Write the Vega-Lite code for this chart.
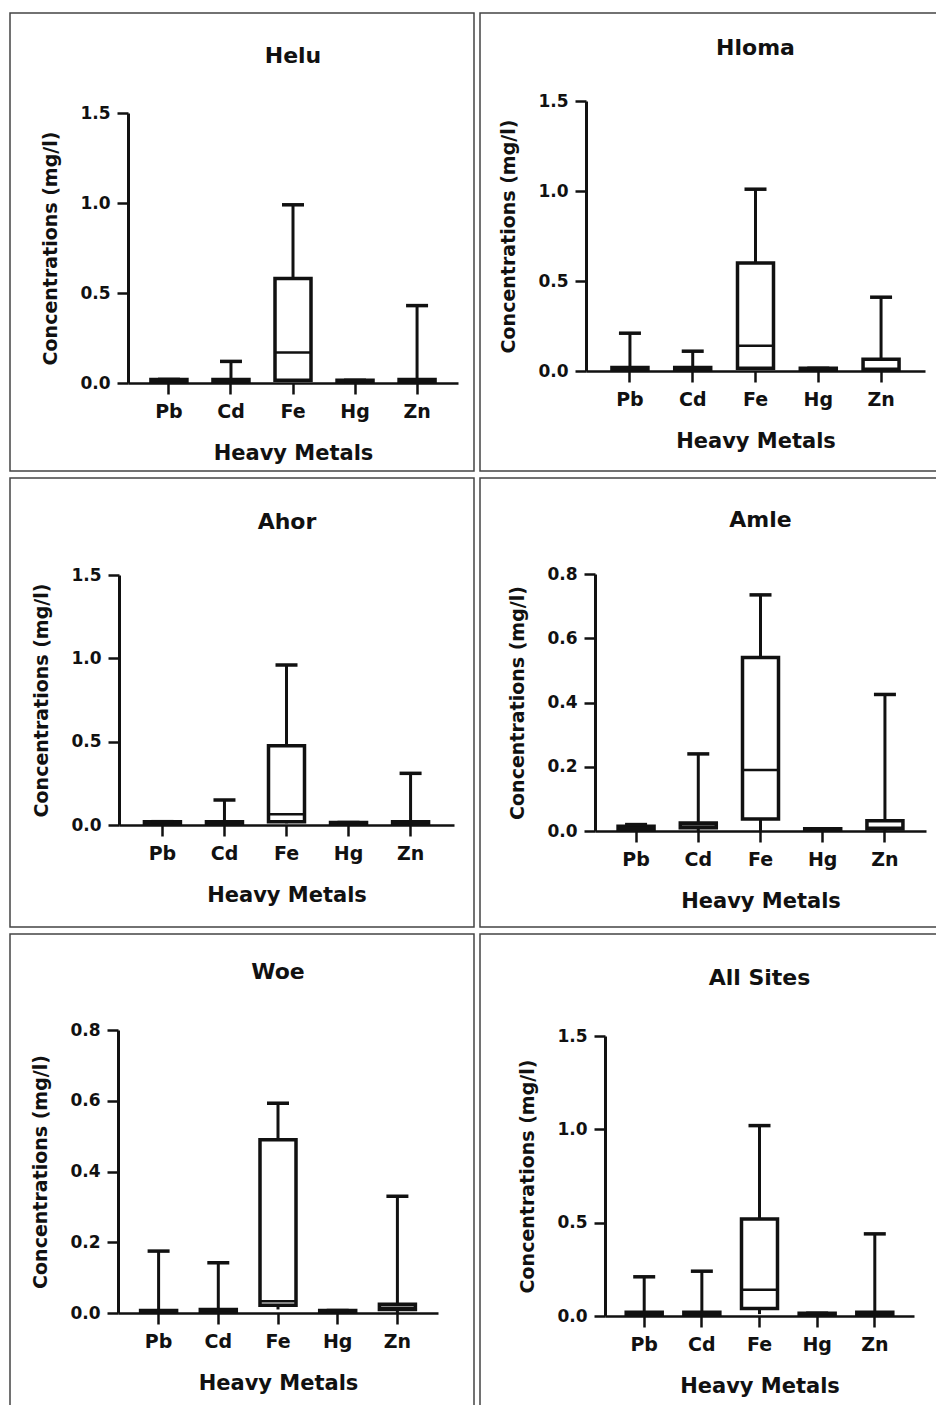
{
  "$schema": "https://vega.github.io/schema/vega-lite/v6.json",
  "padding": {"left": 9, "top": 12, "right": 0, "bottom": 0},
  "background": "white",
  "datasets": {
    "stats": [
      {"site": "Helu", "metal": "Pb", "min": 0, "q1": 0.01, "median": 0.01, "q3": 0.02, "max": 0.02},
      {"site": "Helu", "metal": "Cd", "min": 0, "q1": 0.01, "median": 0.01, "q3": 0.02, "max": 0.12},
      {"site": "Helu", "metal": "Fe", "min": 0.01, "q1": 0.015, "median": 0.17, "q3": 0.58, "max": 0.99},
      {"site": "Helu", "metal": "Hg", "min": 0, "q1": 0.01, "median": 0.01, "q3": 0.015, "max": 0.015},
      {"site": "Helu", "metal": "Zn", "min": 0, "q1": 0.01, "median": 0.01, "q3": 0.02, "max": 0.43},
      {"site": "Hloma", "metal": "Pb", "min": 0, "q1": 0.01, "median": 0.01, "q3": 0.02, "max": 0.21},
      {"site": "Hloma", "metal": "Cd", "min": 0, "q1": 0.01, "median": 0.01, "q3": 0.02, "max": 0.11},
      {"site": "Hloma", "metal": "Fe", "min": 0.01, "q1": 0.015, "median": 0.14, "q3": 0.6, "max": 1.01},
      {"site": "Hloma", "metal": "Hg", "min": 0, "q1": 0.01, "median": 0.01, "q3": 0.015, "max": 0.015},
      {"site": "Hloma", "metal": "Zn", "min": 0, "q1": 0.01, "median": 0.01, "q3": 0.065, "max": 0.41},
      {"site": "Ahor", "metal": "Pb", "min": 0, "q1": 0.01, "median": 0.01, "q3": 0.02, "max": 0.02},
      {"site": "Ahor", "metal": "Cd", "min": 0, "q1": 0.01, "median": 0.01, "q3": 0.02, "max": 0.15},
      {"site": "Ahor", "metal": "Fe", "min": 0.01, "q1": 0.02, "median": 0.065, "q3": 0.475, "max": 0.96},
      {"site": "Ahor", "metal": "Hg", "min": 0, "q1": 0.01, "median": 0.01, "q3": 0.015, "max": 0.015},
      {"site": "Ahor", "metal": "Zn", "min": 0, "q1": 0.01, "median": 0.01, "q3": 0.02, "max": 0.31},
      {"site": "Amle", "metal": "Pb", "min": 0, "q1": 0.005, "median": 0.01, "q3": 0.015, "max": 0.02},
      {"site": "Amle", "metal": "Cd", "min": 0, "q1": 0.01, "median": 0.02, "q3": 0.025, "max": 0.24},
      {"site": "Amle", "metal": "Fe", "min": 0, "q1": 0.037, "median": 0.19, "q3": 0.54, "max": 0.735},
      {"site": "Amle", "metal": "Hg", "min": 0, "q1": 0.004, "median": 0.005, "q3": 0.007, "max": 0.007},
      {"site": "Amle", "metal": "Zn", "min": 0, "q1": 0.006, "median": 0.01, "q3": 0.032, "max": 0.425},
      {"site": "Woe", "metal": "Pb", "min": 0, "q1": 0.004, "median": 0.005, "q3": 0.007, "max": 0.175},
      {"site": "Woe", "metal": "Cd", "min": 0, "q1": 0.005, "median": 0.007, "q3": 0.01, "max": 0.142},
      {"site": "Woe", "metal": "Fe", "min": 0.01, "q1": 0.022, "median": 0.033, "q3": 0.49, "max": 0.593},
      {"site": "Woe", "metal": "Hg", "min": 0, "q1": 0.004, "median": 0.005, "q3": 0.007, "max": 0.007},
      {"site": "Woe", "metal": "Zn", "min": 0, "q1": 0.01, "median": 0.015, "q3": 0.025, "max": 0.33},
      {"site": "All Sites", "metal": "Pb", "min": 0, "q1": 0.01, "median": 0.01, "q3": 0.02, "max": 0.21},
      {"site": "All Sites", "metal": "Cd", "min": 0, "q1": 0.01, "median": 0.01, "q3": 0.02, "max": 0.24},
      {"site": "All Sites", "metal": "Fe", "min": 0.01, "q1": 0.04, "median": 0.14, "q3": 0.52, "max": 1.02},
      {"site": "All Sites", "metal": "Hg", "min": 0, "q1": 0.01, "median": 0.01, "q3": 0.015, "max": 0.015},
      {"site": "All Sites", "metal": "Zn", "min": 0, "q1": 0.01, "median": 0.01, "q3": 0.02, "max": 0.44}
    ]
  },
  "vconcat": [
    {
      "spacing": 4,
      "hconcat": [
        {
          "width": 464, "height": 458,
          "title": {"text": "Helu", "dx": 51, "offset": -55},
          "data": {"name": "stats"},
          "transform": [{"filter": "datum.site === 'Helu'"}],
          "encoding": {"x": {"field": "metal", "type": "nominal", "scale": {"domain": ["Pb", "Cd", "Fe", "Hg", "Zn"], "range": [118, 448], "paddingInner": 0, "paddingOuter": 0.16}, "axis": {"title": "Heavy Metals", "offset": -88}}},
          "layer": [
            {"mark": {"type": "rule", "strokeWidth": 3, "color": "#111"}, "encoding": {"y": {"field": "min", "type": "quantitative", "scale": {"domain": [0, 1.5], "range": [370, 100], "nice": false, "zero": false}, "axis": {"title": "Concentrations (mg/l)", "values": [0, 0.5, 1, 1.5], "format": ".1f", "offset": -118}}, "y2": {"field": "max"}}},
            {"mark": {"type": "bar", "fill": "white", "stroke": "#111", "strokeWidth": 3.5, "size": 36}, "encoding": {"y": {"field": "q1", "type": "quantitative"}, "y2": {"field": "q3"}}},
            {"mark": {"type": "tick", "color": "#111", "opacity": 1, "thickness": 2.5, "size": 36}, "encoding": {"y": {"field": "median", "type": "quantitative"}}},
            {"mark": {"type": "tick", "color": "#111", "opacity": 1, "thickness": 3.5, "size": 22}, "encoding": {"y": {"field": "max", "type": "quantitative"}}}
          ]
        },
        {
          "width": 457, "height": 458,
          "title": {"text": "Hloma", "dx": 47, "offset": -47},
          "data": {"name": "stats"},
          "transform": [{"filter": "datum.site === 'Hloma'"}],
          "encoding": {"x": {"field": "metal", "type": "nominal", "scale": {"domain": ["Pb", "Cd", "Fe", "Hg", "Zn"], "range": [106, 445], "paddingInner": 0, "paddingOuter": 0.2}, "axis": {"title": "Heavy Metals", "offset": -100}}},
          "layer": [
            {"mark": {"type": "rule", "strokeWidth": 3, "color": "#111"}, "encoding": {"y": {"field": "min", "type": "quantitative", "scale": {"domain": [0, 1.5], "range": [358, 88], "nice": false, "zero": false}, "axis": {"title": "Concentrations (mg/l)", "values": [0, 0.5, 1, 1.5], "format": ".1f", "offset": -106}}, "y2": {"field": "max"}}},
            {"mark": {"type": "bar", "fill": "white", "stroke": "#111", "strokeWidth": 3.5, "size": 36}, "encoding": {"y": {"field": "q1", "type": "quantitative"}, "y2": {"field": "q3"}}},
            {"mark": {"type": "tick", "color": "#111", "opacity": 1, "thickness": 2.5, "size": 36}, "encoding": {"y": {"field": "median", "type": "quantitative"}}},
            {"mark": {"type": "tick", "color": "#111", "opacity": 1, "thickness": 3.5, "size": 22}, "encoding": {"y": {"field": "max", "type": "quantitative"}}}
          ]
        }
      ]
    },
    {
      "spacing": 4,
      "hconcat": [
        {
          "width": 464, "height": 449,
          "title": {"text": "Ahor", "dx": 45, "offset": -56},
          "data": {"name": "stats"},
          "transform": [{"filter": "datum.site === 'Ahor'"}],
          "encoding": {"x": {"field": "metal", "type": "nominal", "scale": {"domain": ["Pb", "Cd", "Fe", "Hg", "Zn"], "range": [109, 444], "paddingInner": 0, "paddingOuter": 0.2}, "axis": {"title": "Heavy Metals", "offset": -102}}},
          "layer": [
            {"mark": {"type": "rule", "strokeWidth": 3, "color": "#111"}, "encoding": {"y": {"field": "min", "type": "quantitative", "scale": {"domain": [0, 1.5], "range": [347, 97], "nice": false, "zero": false}, "axis": {"title": "Concentrations (mg/l)", "values": [0, 0.5, 1, 1.5], "format": ".1f", "offset": -109}}, "y2": {"field": "max"}}},
            {"mark": {"type": "bar", "fill": "white", "stroke": "#111", "strokeWidth": 3.5, "size": 36}, "encoding": {"y": {"field": "q1", "type": "quantitative"}, "y2": {"field": "q3"}}},
            {"mark": {"type": "tick", "color": "#111", "opacity": 1, "thickness": 2.5, "size": 36}, "encoding": {"y": {"field": "median", "type": "quantitative"}}},
            {"mark": {"type": "tick", "color": "#111", "opacity": 1, "thickness": 3.5, "size": 22}, "encoding": {"y": {"field": "max", "type": "quantitative"}}}
          ]
        },
        {
          "width": 457, "height": 449,
          "title": {"text": "Amle", "dx": 52, "offset": -54},
          "data": {"name": "stats"},
          "transform": [{"filter": "datum.site === 'Amle'"}],
          "encoding": {"x": {"field": "metal", "type": "nominal", "scale": {"domain": ["Pb", "Cd", "Fe", "Hg", "Zn"], "range": [115, 446], "paddingInner": 0, "paddingOuter": 0.16}, "axis": {"title": "Heavy Metals", "offset": -96}}},
          "layer": [
            {"mark": {"type": "rule", "strokeWidth": 3, "color": "#111"}, "encoding": {"y": {"field": "min", "type": "quantitative", "scale": {"domain": [0, 0.8], "range": [353, 96], "nice": false, "zero": false}, "axis": {"title": "Concentrations (mg/l)", "values": [0, 0.2, 0.4, 0.6, 0.8], "format": ".1f", "offset": -115}}, "y2": {"field": "max"}}},
            {"mark": {"type": "bar", "fill": "white", "stroke": "#111", "strokeWidth": 3.5, "size": 36}, "encoding": {"y": {"field": "q1", "type": "quantitative"}, "y2": {"field": "q3"}}},
            {"mark": {"type": "tick", "color": "#111", "opacity": 1, "thickness": 2.5, "size": 36}, "encoding": {"y": {"field": "median", "type": "quantitative"}}},
            {"mark": {"type": "tick", "color": "#111", "opacity": 1, "thickness": 3.5, "size": 22}, "encoding": {"y": {"field": "max", "type": "quantitative"}}}
          ]
        }
      ]
    },
    {
      "spacing": 4,
      "hconcat": [
        {
          "width": 464, "height": 480,
          "title": {"text": "Woe", "dx": 36, "offset": -50},
          "data": {"name": "stats"},
          "transform": [{"filter": "datum.site === 'Woe'"}],
          "encoding": {"x": {"field": "metal", "type": "nominal", "scale": {"domain": ["Pb", "Cd", "Fe", "Hg", "Zn"], "range": [108, 428], "paddingInner": 0, "paddingOuter": 0.18}, "axis": {"title": "Heavy Metals", "offset": -101}}},
          "layer": [
            {"mark": {"type": "rule", "strokeWidth": 3, "color": "#111"}, "encoding": {"y": {"field": "min", "type": "quantitative", "scale": {"domain": [0, 0.8], "range": [379, 96], "nice": false, "zero": false}, "axis": {"title": "Concentrations (mg/l)", "values": [0, 0.2, 0.4, 0.6, 0.8], "format": ".1f", "offset": -108}}, "y2": {"field": "max"}}},
            {"mark": {"type": "bar", "fill": "white", "stroke": "#111", "strokeWidth": 3.5, "size": 36}, "encoding": {"y": {"field": "q1", "type": "quantitative"}, "y2": {"field": "q3"}}},
            {"mark": {"type": "tick", "color": "#111", "opacity": 1, "thickness": 2.5, "size": 36}, "encoding": {"y": {"field": "median", "type": "quantitative"}}},
            {"mark": {"type": "tick", "color": "#111", "opacity": 1, "thickness": 3.5, "size": 22}, "encoding": {"y": {"field": "max", "type": "quantitative"}}}
          ]
        },
        {
          "width": 457, "height": 480,
          "title": {"text": "All Sites", "dx": 51, "offset": -56},
          "data": {"name": "stats"},
          "transform": [{"filter": "datum.site === 'All Sites'"}],
          "encoding": {"x": {"field": "metal", "type": "nominal", "scale": {"domain": ["Pb", "Cd", "Fe", "Hg", "Zn"], "range": [125, 434], "paddingInner": 0, "paddingOuter": 0.18}, "axis": {"title": "Heavy Metals", "offset": -98}}},
          "layer": [
            {"mark": {"type": "rule", "strokeWidth": 3, "color": "#111"}, "encoding": {"y": {"field": "min", "type": "quantitative", "scale": {"domain": [0, 1.5], "range": [382, 102], "nice": false, "zero": false}, "axis": {"title": "Concentrations (mg/l)", "values": [0, 0.5, 1, 1.5], "format": ".1f", "offset": -125}}, "y2": {"field": "max"}}},
            {"mark": {"type": "bar", "fill": "white", "stroke": "#111", "strokeWidth": 3.5, "size": 36}, "encoding": {"y": {"field": "q1", "type": "quantitative"}, "y2": {"field": "q3"}}},
            {"mark": {"type": "tick", "color": "#111", "opacity": 1, "thickness": 2.5, "size": 36}, "encoding": {"y": {"field": "median", "type": "quantitative"}}},
            {"mark": {"type": "tick", "color": "#111", "opacity": 1, "thickness": 3.5, "size": 22}, "encoding": {"y": {"field": "max", "type": "quantitative"}}}
          ]
        }
      ]
    }
  ],
  "spacing": 5,
  "config": {
    "view": {"stroke": "#444", "strokeWidth": 1.5, "fill": "white"},
    "font": "DejaVu Sans",
    "title": {"font": "DejaVu Sans", "fontSize": 22, "fontWeight": "bold", "color": "#111", "frame": "group", "anchor": "middle"},
    "axis": {"grid": false, "domainColor": "#111", "tickColor": "#111", "labelColor": "#111", "titleColor": "#111", "labelFont": "DejaVu Sans", "titleFont": "DejaVu Sans", "labelFontWeight": "bold", "titleFontWeight": "bold", "labelOverlap": false},
    "axisY": {"domainWidth": 3, "tickWidth": 2.5, "tickSize": 11, "labelFontSize": 17, "labelPadding": 7, "titleFontSize": 19, "titlePadding": 19},
    "axisX": {"domainWidth": 2.5, "tickWidth": 2.5, "tickSize": 11, "labelFontSize": 19, "labelPadding": 8, "titleFontSize": 21, "titlePadding": 21, "labelAngle": 0}
  }
}
